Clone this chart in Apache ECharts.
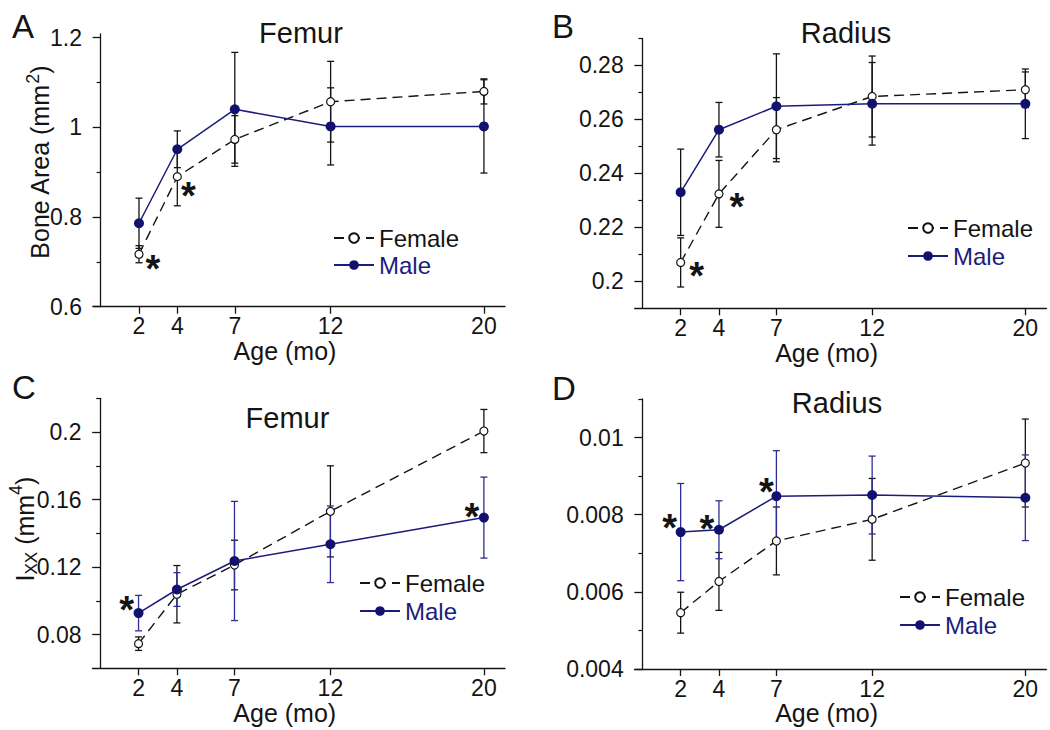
<!DOCTYPE html>
<html><head><meta charset="utf-8">
<script src="https://cdn.jsdelivr.net/npm/echarts@6/dist/echarts.min.js"></script>
<style>html,body{margin:0;padding:0;background:#fff}#c{width:1050px;height:730px}</style>
</head><body><div id="c"></div>
<script>
// ---------------- DATA ----------------
const ages = [2, 4, 7, 12, 20];
const xTickValues = [2, 4, 7, 12, 20];

// A: Femur bone area (mm^2)
const femurAreaFemale    = [0.717, 0.890, 0.973, 1.057, 1.080];
const femurAreaFemaleErr = [0.019, 0.065, 0.053, 0.090, 0.028];
const femurAreaMale      = [0.786, 0.951, 1.040, 1.002, 1.002];
const femurAreaMaleErr   = [0.056, 0.041, 0.127, 0.086, 0.104];
const femurAreaTicks     = [0.6, 0.8, 1.0, 1.2];
const femurAreaMinor     = [0.7, 0.9, 1.1];
const femurAreaSigFemale = [2, 4];
const femurAreaSigMale   = [];

// B: Radius bone area (mm^2)
const radiusAreaFemale    = [0.2070, 0.2324, 0.2562, 0.2685, 0.2710];
const radiusAreaFemaleErr = [0.0091, 0.0124, 0.0119, 0.0150, 0.0066];
const radiusAreaMale      = [0.2330, 0.2562, 0.2649, 0.2658, 0.2658];
const radiusAreaMaleErr   = [0.0160, 0.0101, 0.0194, 0.0153, 0.0129];
const radiusAreaTicks     = [0.2, 0.22, 0.24, 0.26, 0.28];
const radiusAreaMinor     = [0.21, 0.23, 0.25, 0.27, 0.29];
const radiusAreaSigFemale = [2, 4];
const radiusAreaSigMale   = [];

// C: Femur Ixx (mm^4)
const femurIxxFemale    = [0.0746, 0.1039, 0.1212, 0.1530, 0.2006];
const femurIxxFemaleErr = [0.0040, 0.0170, 0.0147, 0.0270, 0.0128];
const femurIxxMale      = [0.0927, 0.1067, 0.1236, 0.1335, 0.1493];
const femurIxxMaleErr   = [0.0105, 0.0100, 0.0353, 0.0227, 0.0240];
const femurIxxTicks     = [0.08, 0.12, 0.16, 0.2];
const femurIxxMinor     = [0.1, 0.14, 0.18, 0.22];
const femurIxxSigFemale = [];
const femurIxxSigMale   = [2, 20];

// D: Radius Ixx (mm^4)
const radiusIxxFemale    = [0.00546, 0.00627, 0.00732, 0.00788, 0.00934];
const radiusIxxFemaleErr = [0.00053, 0.00075, 0.00088, 0.00106, 0.00114];
const radiusIxxMale      = [0.00755, 0.00761, 0.00848, 0.00851, 0.00844];
const radiusIxxMaleErr   = [0.00126, 0.00075, 0.00118, 0.00101, 0.00111];
const radiusIxxTicks     = [0.004, 0.006, 0.008, 0.01];
const radiusIxxMinor     = [0.005, 0.007, 0.009, 0.011];
const radiusIxxSigFemale = [];
const radiusIxxSigMale   = [2, 4, 7];

// ---------------- STYLE / LAYOUT ----------------
const FONT = 'Liberation Sans, Arial, Helvetica, sans-serif';
const INK = '#141414';
const NAVY = '#1c1c7c';
const NAVY_FILL = '#12126e';
const NAVY_BAR = '#2e2e96';

const panels = [
  {letter:'A', title:'Femur',  fem:femurAreaFemale, femE:femurAreaFemaleErr, mal:femurAreaMale, malE:femurAreaMaleErr,
   ticks:femurAreaTicks, minor:femurAreaMinor, sigF:femurAreaSigFemale, sigM:femurAreaSigMale,
   grid:{left:93, top:34, width:412, height:272.7}, ymin:0.6, ymax:1.208,
   letterPos:[12,26], titlePos:[301,33], legend:{left:333, top:226, gap:3},
   yName:{parts:[['Bone Area (mm',25,0],['2',18,-7],[')',25,0]], cx:39.5, cy:162}, maleBar:INK,
   starOff:{F:{2:[14,15],4:[11,19]}, M:{}}},
  {letter:'B', title:'Radius', fem:radiusAreaFemale, femE:radiusAreaFemaleErr, mal:radiusAreaMale, malE:radiusAreaMaleErr,
   ticks:radiusAreaTicks, minor:radiusAreaMinor, sigF:radiusAreaSigFemale, sigM:radiusAreaSigMale,
   grid:{left:634.7, top:38.5, width:411.7, height:269.8}, ymin:0.19, ymax:0.29,
   letterPos:[552,26], titlePos:[846,33], legend:{left:907, top:216, gap:4},
   yName:null, maleBar:INK,
   starOff:{F:{2:[16,14],4:[18,13]}, M:{}}},
  {letter:'C', title:'Femur',  fem:femurIxxFemale, femE:femurIxxFemaleErr, mal:femurIxxMale, malE:femurIxxMaleErr,
   ticks:femurIxxTicks, minor:femurIxxMinor, sigF:femurIxxSigFemale, sigM:femurIxxSigMale,
   grid:{left:92.5, top:398.3, width:412.5, height:270}, ymin:0.06, ymax:0.22,
   letterPos:[12,387], titlePos:[287.5,418], legend:{left:359, top:571, gap:4},
   yName:{parts:[['I',25,0],['XX',17,6.5],[' (mm',25,0],['4',18,-9],[')',25,0]], cx:25, cy:529}, maleBar:NAVY_BAR,
   starOff:{F:{}, M:{2:[-12,-3],20:[-12,-1]}}},
  {letter:'D', title:'Radius', fem:radiusIxxFemale, femE:radiusIxxFemaleErr, mal:radiusIxxMale, malE:radiusIxxMaleErr,
   ticks:radiusIxxTicks, minor:radiusIxxMinor, sigF:radiusIxxSigFemale, sigM:radiusIxxSigMale,
   grid:{left:634.7, top:399, width:411.7, height:270}, ymin:0.004, ymax:0.011,
   letterPos:[552,388], titlePos:[837,403], legend:{left:899, top:585, gap:4},
   yName:null, maleBar:NAVY_BAR,
   starOff:{F:{}, M:{2:[-11,-4],4:[-12,-1],7:[-10,-4]}}}
];

const measureCtx = document.createElement('canvas').getContext('2d');
function textW(t, size) { measureCtx.font = size + 'px ' + FONT; return measureCtx.measureText(t).width; }

function rotatedName(spec) {
  const widths = spec.parts.map(p => textW(p[0], p[1]));
  const total = widths.reduce((a,b)=>a+b, 0);
  let x = -total/2;
  const children = spec.parts.map((p, i) => {
    const el = {type:'text', x:x, y:p[2],
      style:{text:p[0], fontSize:p[1], fontFamily:FONT, fill:INK, align:'left', verticalAlign:'middle'}};
    x += widths[i];
    return el;
  });
  return {type:'group', x:spec.cx, y:spec.cy, rotation:Math.PI/2, children:children};
}

const grids = [], xAxes = [], yAxes = [], minorAxes = [], series = [], legends = [], graphics = [];

function errSeries(g, vals, errs, color) {
  return {
    type:'custom', xAxisIndex:g, yAxisIndex:g, z:1, silent:true,
    data: ages.map((x,i)=>[x, vals[i]-errs[i], vals[i]+errs[i]]),
    encode:{x:0, y:[1,2]},
    renderItem(params, api) {
      const x = api.value(0);
      const lo = api.coord([x, api.value(1)]);
      const hi = api.coord([x, api.value(2)]);
      const w = 3.5, st = {stroke:color, lineWidth:1.3};
      return {type:'group', children:[
        {type:'line', shape:{x1:lo[0], y1:lo[1], x2:hi[0], y2:hi[1]}, style:st},
        {type:'line', shape:{x1:lo[0]-w, y1:lo[1], x2:lo[0]+w, y2:lo[1]}, style:st},
        {type:'line', shape:{x1:hi[0]-w, y1:hi[1], x2:hi[0]+w, y2:hi[1]}, style:st}
      ]};
    }
  };
}

function lineData(vals, sig, offs) {
  return ages.map((x,i)=>{
    const item = {value:[x, vals[i]]};
    if (sig.indexOf(x) >= 0) {
      item.label = {show:true, position:'inside', formatter:'*', offset:offs[x] || [12,0],
        fontSize:38, fontWeight:'bold', color:INK, fontFamily:FONT};
    }
    return item;
  });
}

panels.forEach((p, g) => {
  grids.push(Object.assign({containLabel:false}, p.grid));
  xAxes.push({
    type:'value', gridIndex:g, min:-0.4, max:21.1,
    axisLine:{show:true, onZero:false, lineStyle:{color:INK, width:1.3}},
    axisTick:{show:true, customValues:xTickValues, length:7, lineStyle:{color:INK, width:1.3}},
    axisLabel:{show:true, customValues:xTickValues, fontSize:23, color:INK, margin:8, fontFamily:FONT},
    splitLine:{show:false},
    name:'Age (mo)', nameLocation:'middle', nameGap:26,
    nameTextStyle:{fontSize:25, color:INK, fontFamily:FONT, padding:[0,28,0,0]}
  });
  yAxes.push({
    type:'value', gridIndex:g, min:p.ymin, max:p.ymax, position:'left',
    axisLine:{show:true, onZero:true, onZeroAxisIndex:g, lineStyle:{color:INK, width:1.3}},
    axisTick:{show:true, customValues:p.ticks, length:8, lineStyle:{color:INK, width:1.3}},
    axisLabel:{show:true, customValues:p.ticks, fontSize:23, color:INK, margin:11, fontFamily:FONT,
      formatter:v=>String(+Number(v).toFixed(6))},
    splitLine:{show:false}
  });
  minorAxes.push({
    type:'value', gridIndex:g, min:p.ymin, max:p.ymax, position:'left',
    axisLine:{show:false, onZero:true, onZeroAxisIndex:g},
    axisTick:{show:true, customValues:p.minor, length:4, lineStyle:{color:INK, width:1.2}},
    axisLabel:{show:false}, splitLine:{show:false}
  });

  series.push(errSeries(g, p.fem, p.femE, INK));
  series.push(errSeries(g, p.mal, p.malE, p.maleBar));
  series.push({
    type:'line', name:'Female', xAxisIndex:g, yAxisIndex:g, z:3,
    data: lineData(p.fem, p.sigF, p.starOff.F),
    symbol:'circle', symbolSize:8, showAllSymbol:true,
    itemStyle:{color:'#ffffff', borderColor:INK, borderWidth:1.2},
    lineStyle:{color:INK, width:1.4, type:[10,6]},
    emphasis:{disabled:true}, animation:false
  });
  series.push({
    type:'line', name:'Male', xAxisIndex:g, yAxisIndex:g, z:4,
    data: lineData(p.mal, p.sigM, p.starOff.M),
    symbol:'circle', symbolSize:10, showAllSymbol:true,
    itemStyle:{color:NAVY_FILL, borderColor:NAVY_FILL, borderWidth:0},
    lineStyle:{color:NAVY, width:1.5},
    emphasis:{disabled:true}, animation:false
  });

  legends.push({
    left:p.legend.left, top:p.legend.top, orient:'vertical', align:'left',
    itemWidth:40, itemHeight:12, itemGap:p.legend.gap, padding:0,
    selectedMode:false,
    textStyle:{fontSize:24, fontFamily:FONT, color:INK},
    data:[{name:'Female', textStyle:{color:INK}}, {name:'Male', textStyle:{color:NAVY}}]
  });

  graphics.push({type:'text', x:p.letterPos[0], y:p.letterPos[1],
    style:{text:p.letter, fontSize:33, fontFamily:FONT, fill:INK, verticalAlign:'middle', align:'left'}});
  graphics.push({type:'text', x:p.titlePos[0], y:p.titlePos[1],
    style:{text:p.title, fontSize:29, fontFamily:FONT, fill:INK, verticalAlign:'middle', align:'center'}});
  if (p.yName) graphics.push(rotatedName(p.yName));
});

const chart = echarts.init(document.getElementById('c'), null, {renderer:'svg'});
chart.setOption({
  backgroundColor:'#ffffff',
  animation:false,
  textStyle:{fontFamily:FONT},
  grid:grids,
  xAxis:xAxes,
  yAxis:yAxes.concat(minorAxes),
  legend:legends,
  series:series,
  graphic:graphics
});
</script>
</body></html>
